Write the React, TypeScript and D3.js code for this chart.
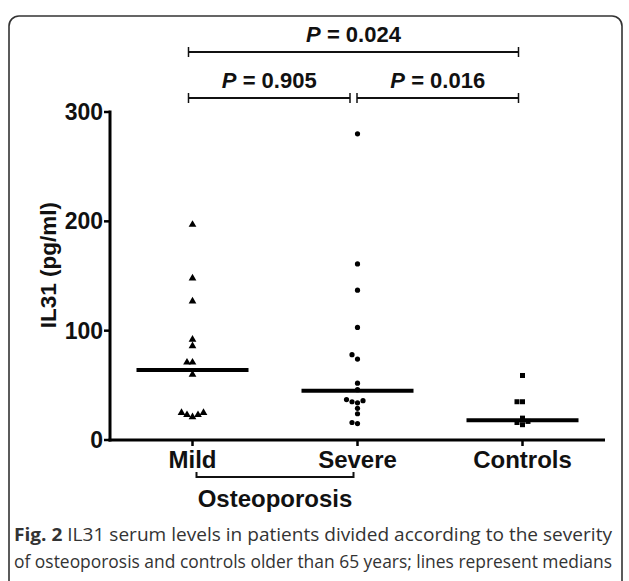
import React from 'react';
import * as d3 from 'd3';

const groups = ['Mild', 'Severe', 'Controls'];
const mildValues = [197, 148, 127, 92, 86, 71, 71, 60, 25, 23, 21, 23, 25];
const severeValues = [280, 161, 137, 103, 78, 74, 52, 46, 37, 36, 35, 34, 29, 24, 16, 15];
const controlValues = [59, 35, 35, 20, 17, 16, 14];
const medians = [64, 45, 18];
const yTicks = [0, 100, 200, 300];
const comparisons = [
  { from: 'Mild', to: 'Controls', label: '0.024', level: 0 },
  { from: 'Mild', to: 'Severe', label: '0.905', level: 1 },
  { from: 'Severe', to: 'Controls', label: '0.016', level: 1 },
];
const captionLines = [
  { bold: 'Fig. 2', text: ' IL31 serum levels in patients divided according to the severity' },
  { bold: '', text: 'of osteoporosis and controls older than 65 years; lines represent medians' },
];

const W = 629;
const H = 581;
const margin = { left: 110, right: 24, top: 112, bottom: 141 };
const FONT = '"Liberation Sans", Arial, sans-serif';

// simple beeswarm so points with close values spread sideways (like Prism)
function swarm(values: number[], y: (v: number) => number, step: number, minDist: number) {
  const sorted = values.map((v, i) => ({ v, i })).sort((a, b) => a.v - b.v);
  const placed: { dx: number; py: number; v: number }[] = [];
  sorted.forEach(({ v }) => {
    const py = y(v);
    for (let k = 0; k < 20; k++) {
      const n = Math.ceil(k / 2) * (k % 2 === 0 ? 1 : -1);
      const dx = n * step;
      const hit = placed.some(p => Math.hypot(p.dx - dx, p.py - py) < minDist);
      if (!hit) {
        placed.push({ dx, py, v });
        break;
      }
    }
  });
  return placed;
}

export default function App() {
  const x = d3.scalePoint<string>().domain(groups).range([margin.left, W - margin.right]).padding(0.5);
  const y = d3.scaleLinear().domain([0, 300]).range([H - margin.bottom, margin.top]);
  const y0 = y(0);
  const series = [mildValues, severeValues, controlValues];
  const tri = d3.symbol().type(d3.symbolTriangle).size(26)() as string;

  const bracketY = (level: number) => (level === 0 ? 52 : 98);

  return (
    <svg width={W} height={H} style={{ position: 'absolute', left: 0, top: 0 }} fontFamily={FONT}>
      <rect x={9} y={16} width={613} height={600} rx={10} fill="none" stroke="#333" strokeWidth={1.6} />

      {/* significance brackets */}
      {comparisons.map((c, i) => {
        const gap = c.level === 1 ? 3.5 : 0;
        const x1 = (x(c.from) as number) - 4 + (c.from === 'Severe' ? gap : 0);
        const x2 = (x(c.to) as number) - 4 - (c.to === 'Severe' ? gap : 0);
        const by = bracketY(c.level);
        return (
          <g key={i}>
            <line x1={x1} x2={x2} y1={by} y2={by} stroke="#111" strokeWidth={2} />
            <line x1={x1} x2={x1} y1={by - 5} y2={by + 5} stroke="#111" strokeWidth={1.5} />
            <line x1={x2} x2={x2} y1={by - 5} y2={by + 5} stroke="#111" strokeWidth={1.5} />
            <text x={(x1 + x2) / 2} y={by - 10} textAnchor="middle" fontSize={22} fontWeight="bold" fill="#111">
              <tspan fontStyle="italic">P</tspan> = {c.label}
            </text>
          </g>
        );
      })}

      {/* y axis */}
      <line x1={margin.left} x2={margin.left} y1={y(300) - 1.5} y2={y0 + 1.5} stroke="#000" strokeWidth={3} />
      {yTicks.map(t => (
        <g key={t}>
          <line x1={margin.left - 6} x2={margin.left} y1={y(t)} y2={y(t)} stroke="#000" strokeWidth={2.5} />
          <text x={margin.left - 7} y={y(t) + 8} textAnchor="end" fontSize={23} fontWeight="bold" fill="#111">{t}</text>
        </g>
      ))}
      <text transform={`translate(56,${y(160)}) rotate(-90)`} textAnchor="middle" fontSize={22.5} fontWeight="bold" fill="#111">IL31 (pg/ml)</text>

      {/* x axis */}
      <line x1={margin.left - 1.5} x2={W - margin.right} y1={y0} y2={y0} stroke="#000" strokeWidth={3} />
      {groups.map(g => (
        <g key={g}>
          <line x1={x(g)} x2={x(g)} y1={y0} y2={y0 + 6} stroke="#000" strokeWidth={2.5} />
          <text x={x(g)} y={y0 + 28} textAnchor="middle" fontSize={24} fontWeight="bold" fill="#111">{g}</text>
        </g>
      ))}
      {/* Osteoporosis grouping bracket */}
      <path
        d={`M${(x('Mild') as number) + 4},${y0 + 32} V${y0 + 37} H${(x('Severe') as number) - 4} V${y0 + 32}`}
        fill="none" stroke="#111" strokeWidth={2}
      />
      <text x={((x('Mild') as number) + (x('Severe') as number)) / 2} y={y0 + 67} textAnchor="middle" fontSize={24} fontWeight="bold" fill="#111">Osteoporosis</text>

      {/* medians */}
      {groups.map((g, i) => (
        <line key={g} x1={(x(g) as number) - 56} x2={(x(g) as number) + 56} y1={y(medians[i])} y2={y(medians[i])} stroke="#000" strokeWidth={4} />
      ))}

      {/* points */}
      {series.map((vals, gi) => {
        const cx = x(groups[gi]) as number;
        return swarm(vals, y, 5.5, 5).map((p, j) => {
          if (gi === 0) return <path key={j} d={tri} transform={`translate(${cx + p.dx},${p.py})`} fill="#000" />;
          if (gi === 1) return <circle key={j} cx={cx + p.dx} cy={p.py} r={2.6} fill="#000" />;
          return <rect key={j} x={cx + p.dx - 2.5} y={p.py - 2.5} width={5} height={5} fill="#000" />;
        });
      })}

      {/* caption */}
      {captionLines.map((l, i) => (
        <text key={i} x={14} y={541 + i * 27} fontFamily='"Open Sans", sans-serif' fontSize={17.5} fill="#333" textLength={598} lengthAdjust="spacingAndGlyphs">
          {l.bold && <tspan fontWeight="bold">{l.bold}</tspan>}{l.text}
        </text>
      ))}
    </svg>
  );
}
